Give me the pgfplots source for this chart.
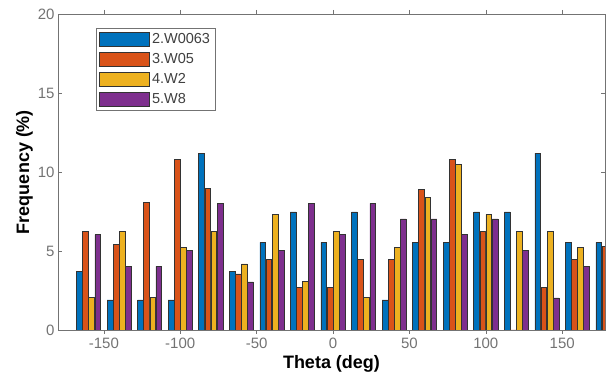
\documentclass[border=0pt]{standalone}
\usepackage{pgfplots}
\pgfplotsset{compat=1.18}
\usepackage{fontspec}
\setmainfont{Liberation Sans}
\definecolor{mblue}{rgb}{0,0.447,0.741}
\definecolor{morange}{rgb}{0.85,0.325,0.098}
\definecolor{myellow}{rgb}{0.929,0.694,0.125}
\definecolor{mpurple}{rgb}{0.494,0.184,0.556}
\definecolor{axgray}{gray}{0.45}
\begin{document}
\begin{tikzpicture}
\path[use as bounding box] (0,0) rectangle (606pt,388pt);
\begin{axis}[
  at={(58pt,58pt)}, anchor=south west,
  width=547pt, height=316pt, scale only axis,
  xmin=-180, xmax=178, ymin=0, ymax=20,
  xtick={-150,-100,...,150}, ytick={0,5,...,20},
  tick align=inside, major tick length=4pt,
  axis line style={axgray, line width=0.8pt},
  tick style={axgray, line width=0.6pt},
  ticklabel style={font=\fontsize{15}{18}\selectfont, text=axgray},
  /pgf/number format/assume math mode=true,
  xlabel={Theta (deg)}, ylabel={Frequency (\%)},
  label style={font=\fontsize{18}{21}\selectfont\bfseries},
  ylabel style={xshift=0pt, yshift=-2pt},
  ybar,
  every axis plot post/.append style={legend image code/.code={\draw[##1] (0pt,-7pt) rectangle (50pt,7pt);}},
  legend style={at={(axis description cs:0.0695,0.956)}, anchor=north west,
    font=\fontsize{14.5}{17}\selectfont, text=black!75, draw=axgray, line width=0.8pt,
    row sep=4.5pt, inner sep=3pt},
  legend cell align=left,
]
\addplot[fill=mblue, draw=black!80, line width=0.6pt, bar width=3.8, bar shift=-6] coordinates {
(-160,3.7) (-140,1.9) (-120,1.9) (-100,1.9) (-80,11.2) (-60,3.7) (-40,5.55) (-20,7.47) (0,5.55)
(20,7.47) (40,1.9) (60,5.55) (80,5.55) (100,7.47) (120,7.47) (140,11.2) (160,5.55) (180,5.55)};
\addlegendentry{2.W0063}
\addplot[fill=morange, draw=black!80, line width=0.6pt, bar width=3.8, bar shift=-2] coordinates {
(-160,6.25) (-140,5.4) (-120,8.08) (-100,10.78) (-80,8.95) (-60,3.55) (-40,4.49) (-20,2.7) (0,2.7)
(20,4.49) (40,4.49) (60,8.92) (80,10.78) (100,6.25) (120,0) (140,2.7) (160,4.49) (180,5.3)};
\addlegendentry{3.W05}
\addplot[fill=myellow, draw=black!80, line width=0.6pt, bar width=3.8, bar shift=2] coordinates {
(-160,2.07) (-140,6.25) (-120,2.07) (-100,5.23) (-80,6.25) (-60,4.18) (-40,7.32) (-20,3.1) (0,6.25)
(20,2.07) (40,5.23) (60,8.4) (80,10.48) (100,7.32) (120,6.25) (140,6.25) (160,5.23)};
\addlegendentry{4.W2}
\addplot[fill=mpurple, draw=black!80, line width=0.6pt, bar width=3.8, bar shift=6] coordinates {
(-160,6.03) (-140,4.03) (-120,4.03) (-100,5.02) (-80,8.02) (-60,3.04) (-40,5.02) (-20,8.02) (0,6.03)
(20,8.02) (40,7.03) (60,7.03) (80,6.03) (100,7.03) (120,5.02) (140,2.03) (160,4.03)};
\addlegendentry{5.W8}
\end{axis}
\end{tikzpicture}
\end{document}
